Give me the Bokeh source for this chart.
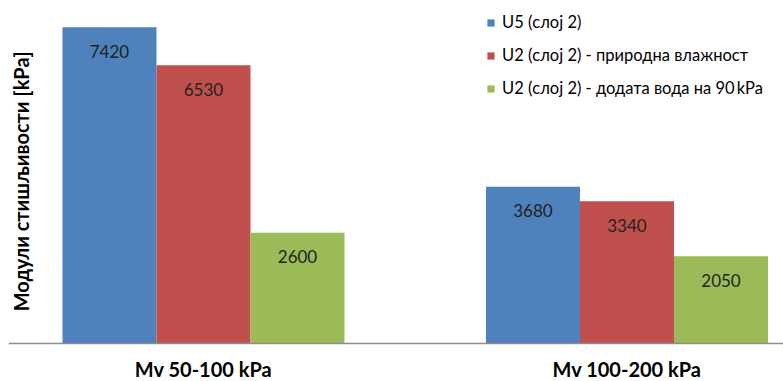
import math
from bokeh.plotting import figure
from bokeh.models import (ColumnDataSource, Range1d, Legend, LegendItem, Label, Span)
from bokeh.core.properties import value
from bokeh.embed import file_html
from bokeh.resources import INLINE

categories = ["Mv 50-100 kPa", "Mv 100-200 kPa"]
series_names = [
    "U5 (слој 2)",
    "U2 (слој 2) - природна влажност",
    "U2 (слој 2) - додата вода на 90\u2009kPa",
]
u5_values = [7420, 3680]
u2_natural_values = [6530, 3340]
u2_water_values = [2600, 2050]
colors = ["#4F81BD", "#C0504D", "#9BBB59"]
y_title = "Модули стишљивости [kPa]"

FONT = "Lato"
bar_w = 0.222
offsets = [-bar_w, 0.0, bar_w]

# frame covers the whole canvas below the 8px left border; the value axis
# (0..8050) occupies the top 343px, the rest is room for the category labels
p = figure(width=783, height=381, output_backend="svg", toolbar_location=None,
           x_range=Range1d(-0.4604, 1.3696), y_range=Range1d(-892, 8050),
           min_border_left=8, min_border_right=0, min_border_top=0, min_border_bottom=0)
p.outline_line_color = None
p.grid.visible = False
p.axis.visible = False
p.background_fill_color = "white"
p.border_fill_color = "white"

renderers = []
for vals, name, col, off in zip([u5_values, u2_natural_values, u2_water_values],
                                series_names, colors, offsets):
    xs = [i + off for i in range(len(categories))]
    src = ColumnDataSource(dict(x=xs, top=vals, label=[str(v) for v in vals]))
    r = p.vbar(x="x", top="top", width=bar_w, bottom=0, source=src,
               fill_color=col, line_color=None)
    renderers.append((name, r))
    p.text(x="x", y="top", text="label", source=src, y_offset=24,
           text_align="center", text_baseline="middle",
           text_font=value(FONT), text_font_size="17px", text_color="#222222")

p.add_layout(Span(location=0, dimension="width", line_color="#8c8c8c", line_width=1.5))

cat_src = ColumnDataSource(dict(x=list(range(len(categories))), y=[0] * len(categories),
                                text=categories))
p.text(x="x", y="y", text="text", source=cat_src, y_offset=14,
       text_align="center", text_baseline="top", text_font=value(FONT),
       text_font_style="bold", text_font_size="20px", text_color="#000000")

legend = Legend(items=[LegendItem(label=n, renderers=[r]) for n, r in renderers],
                location=(478, 283), orientation="vertical",
                glyph_width=9, glyph_height=9, label_height=20, spacing=13,
                label_standoff=7, padding=0, margin=0,
                border_line_color=None, background_fill_alpha=0,
                label_text_font=FONT, label_text_font_size="16.5px",
                label_text_color="#000000")
p.add_layout(legend, "center")

p.add_layout(Label(x=12, y=200, x_units="screen", y_units="screen", text=y_title,
                   angle=math.pi / 2, text_align="center", text_baseline="middle",
                   text_font=FONT, text_font_style="bold", text_font_size="20px",
                   text_color="#000000"))

open("out.html", "w").write(file_html(p, INLINE))
